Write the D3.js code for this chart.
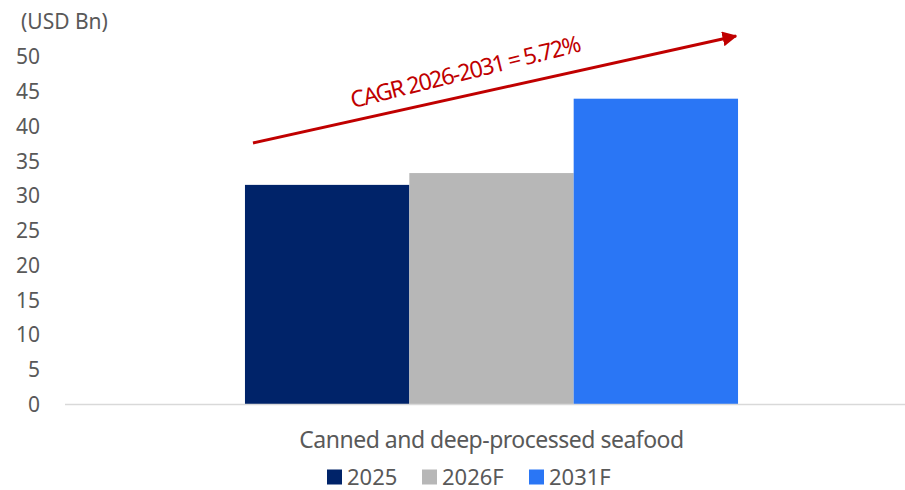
<!DOCTYPE html>
<html>
<head>
  <meta charset="utf-8">
  <style>
    body { margin: 0; background: #fff; font-family: "Noto Sans", "Open Sans", sans-serif; }
    svg text { fill: #595959; }
  </style>
</head>
<body>
  <svg id="chart" width="905" height="490"></svg>
  <script src="https://cdn.jsdelivr.net/npm/d3@7"></script>
  <script>
    // data
    var categories = ["Canned and deep-processed seafood"];
    var seriesNames = ["2025", "2026F", "2031F"];
    var seriesValues = [31.6, 33.3, 44.0];
    var seriesColors = ["#002369", "#B7B7B7", "#2A76F5"];
    var yTicks = [0, 5, 10, 15, 20, 25, 30, 35, 40, 45, 50];
    var cagrLabel = "CAGR 2026-2031 = 5.72%";

    var svg = d3.select("#chart");

    var y = d3.scaleLinear().domain([0, 50]).range([404.5, 57]);
    var x0 = d3.scaleBand().domain(categories).range([65, 918]).paddingOuter(0.365);
    var x1 = d3.scaleBand().domain(seriesNames).range([0, x0.bandwidth()]);

    // y labels
    svg.append("g").selectAll("text")
      .data(yTicks)
      .join("text")
      .attr("x", 40)
      .attr("y", d => y(d))
      .attr("dy", "0.35em")
      .attr("text-anchor", "end")
      .attr("font-size", 21)
      .text(d => d);

    svg.append("text")
      .attr("x", 21)
      .attr("y", 22)
      .attr("dy", "0.35em")
      .attr("font-size", 21)
      .text("(USD Bn)");

    // bars
    var g = svg.append("g").attr("transform", "translate(" + x0(categories[0]) + ",0)");
    g.selectAll("rect")
      .data(seriesValues)
      .join("rect")
      .attr("x", (d, i) => x1(seriesNames[i]))
      .attr("width", x1.bandwidth())
      .attr("y", d => y(d))
      .attr("height", d => y(0) - y(d))
      .attr("fill", (d, i) => seriesColors[i]);

    // x axis line
    svg.append("line")
      .attr("x1", 65).attr("x2", 905)
      .attr("y1", y(0)).attr("y2", y(0))
      .attr("stroke", "#D9D9D9")
      .attr("stroke-width", 1.5);

    svg.append("text")
      .attr("x", x0(categories[0]) + x0.bandwidth() / 2)
      .attr("y", 440)
      .attr("dy", "0.35em")
      .attr("text-anchor", "middle")
      .attr("font-size", 23)
      .attr("letter-spacing", -0.5)
      .text(categories[0]);

    // CAGR arrow
    svg.append("defs").append("marker")
      .attr("id", "head")
      .attr("viewBox", "0 0 10 10")
      .attr("refX", 9).attr("refY", 5)
      .attr("markerWidth", 5).attr("markerHeight", 5)
      .attr("markerUnits", "strokeWidth")
      .attr("orient", "auto")
      .append("path")
      .attr("d", "M0,0L10,5L0,10Z")
      .attr("fill", "#C00000");

    svg.append("line")
      .attr("x1", 253).attr("y1", 143)
      .attr("x2", 736).attr("y2", 36)
      .attr("stroke", "#C00000")
      .attr("stroke-width", 3)
      .attr("marker-end", "url(#head)");

    svg.append("text")
      .attr("transform", "translate(465,72) rotate(-14)")
      .attr("text-anchor", "middle")
      .attr("dy", "0.35em")
      .attr("font-size", 23)
      .attr("letter-spacing", -1.5)
      .style("fill", "#C00000")
      .text(cagrLabel);

    // legend
    var legendX = [327, 422, 529];
    var legend = svg.append("g").selectAll("g")
      .data(seriesNames)
      .join("g")
      .attr("transform", (d, i) => "translate(" + legendX[i] + ",477)");
    legend.append("rect")
      .attr("x", 0).attr("y", -7.5)
      .attr("width", 15).attr("height", 15)
      .attr("fill", (d, i) => seriesColors[i]);
    legend.append("text")
      .attr("x", 20)
      .attr("dy", "0.35em")
      .attr("font-size", 22)
      .text(d => d);
  </script>
</body>
</html>
